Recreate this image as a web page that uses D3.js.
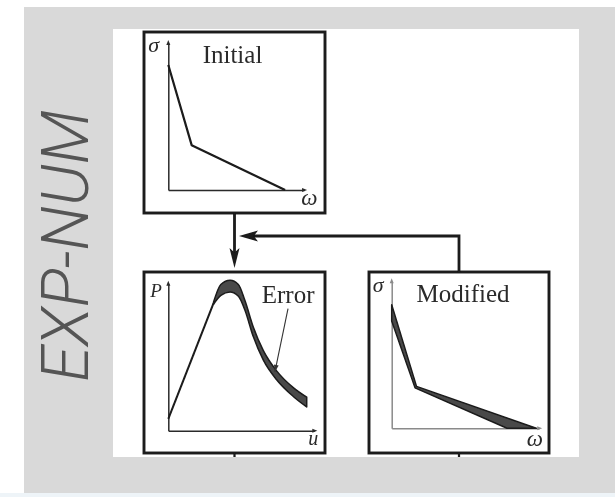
<!DOCTYPE html>
<html>
<head>
<meta charset="utf-8">
<script src="https://cdn.jsdelivr.net/npm/d3@7"></script>
<style>
  html, body { margin: 0; padding: 0; background: #ffffff; }
  svg { display: block; }
</style>
</head>
<body>
<svg id="chart" width="615" height="497"></svg>
<script>
// ---- data -------------------------------------------------------------
// Initial stress-opening law sigma(omega): piecewise linear
const initOmega = [0, 1.6, 8.0];
const initSigma = [8.5, 3.05, 0];

// Load-displacement response P(u) with its error band
// (straight loading branch up to u = 3.1, then the smooth peak and softening tail)
const pU     = [0,   3.1,  3.6,  4.23,  4.8,  5.25, 5.82, 6.51, 7.42, 8.56, 9.48];
const pUpper = [0.8, 8.75, 9.95, 10.23, 9.95, 8.85, 7.05, 5.45, 4.07, 2.93, 2.28];
const pLower = [0.8, 8.6,  9.2,  9.43,  9.15, 8.2,  6.4,  4.8,  3.47, 2.33, 1.62];

// Modified law: band between an upper and a lower bilinear curve
const modOmegaUpper = [0, 1.7, 9.9];
const modSigmaUpper = [8.4, 2.85, 0];
const modOmegaLower = [0, 1.6, 7.9];
const modSigmaLower = [7.3, 2.75, 0];

// "Error" annotation: label anchor and arrow tip, in (u, P)
const errLabel = [6.4, 8.7];
const errFrom  = [8.2, 8.3];
const errTip   = [7.3, 4.0];

const panelTitles = ["Initial", "Modified"];
const axisNames = { initial: ["ω", "σ"], response: ["u", "P"], modified: ["ω", "σ"] };
const sideLabel = "EXP-NUM";

// ---- layout -----------------------------------------------------------
const svg = d3.select("#chart");
const W = 615, H = 497;

// grey backdrop
svg.append("rect").attr("x", 24).attr("y", 7).attr("width", W - 24).attr("height", 486)
  .attr("fill", "#d9d9d9");
svg.append("rect").attr("x", 0).attr("y", 493).attr("width", W).attr("height", 4)
  .attr("fill", "#eef4f8");

// rotated side label
svg.append("text")
  .attr("transform", "translate(88,246) rotate(-90)")
  .attr("text-anchor", "middle")
  .attr("font-family", "Roboto, 'Open Sans', sans-serif")
  .attr("font-weight", 300)
  .attr("font-style", "italic")
  .attr("font-size", 66)
  .attr("fill", "#555555")
  .attr("textLength", 272)
  .attr("lengthAdjust", "spacingAndGlyphs")
  .text(sideLabel);

const defs = svg.append("defs");
defs.append("filter").attr("id", "soft")
  .attr("x", "-5%").attr("y", "-5%").attr("width", "110%").attr("height", "110%")
  .append("feGaussianBlur").attr("stdDeviation", 0.5);

// white figure sheet
svg.append("rect").attr("x", 113).attr("y", 29).attr("width", 466).attr("height", 428)
  .attr("fill", "#ffffff");

const fig = svg.append("g").attr("filter", "url(#soft)");
const ink = "#1a1a1a";
const serif = "'Liberation Serif', 'DejaVu Serif', serif";

// boxes of the flow chart
const boxes = {
  initial:  { x: 144, y: 32,  w: 181, h: 181, ox: 24.3, oy: 158,   xMax: 9.3,  axisColor: "#2a2a2a" },
  response: { x: 144, y: 272, w: 181, h: 181, ox: 24.3, oy: 158.7, xMax: 10.0, axisColor: "#2a2a2a" },
  modified: { x: 369, y: 272, w: 180, h: 181, ox: 22.7, oy: 156.3, xMax: 10.1, axisColor: "#8a8a8a" }
};

// label offsets (from panel origin)
const labelPos = {
  initial:  { yl: [-20, -138, 22], xl: [133, 15, 23] },
  response: { yl: [-18, -134, 19], xl: [140, 14, 20] },
  modified: { yl: [-19, -136, 22], xl: [135, 18, 23] }
};

function makeScales(b) {
  const x0 = b.x + b.ox, y0 = b.y + b.oy;
  return {
    x: d3.scaleLinear().domain([0, 10]).range([x0, x0 + 146]),
    y: d3.scaleLinear().domain([0, 10]).range([y0, y0 - 147])
  };
}

const scales = {};
Object.entries(boxes).forEach(([key, b]) => {
  fig.append("rect").attr("x", b.x).attr("y", b.y).attr("width", b.w).attr("height", b.h)
    .attr("fill", "none").attr("stroke", ink).attr("stroke-width", 2.9);

  const s = makeScales(b);
  scales[key] = s;

  // axes: bare domain lines with small arrowheads
  const xAxis = d3.axisBottom(d3.scaleLinear().domain([0, b.xMax]).range([s.x(0), s.x(b.xMax)]))
    .tickValues([]).tickSizeOuter(0);
  const yAxis = d3.axisLeft(d3.scaleLinear().domain([0, 10]).range([s.y(0), s.y(10)]))
    .tickValues([]).tickSizeOuter(0);
  const gx = fig.append("g").attr("transform", `translate(0,${s.y(0)})`).call(xAxis);
  const gy = fig.append("g").attr("transform", `translate(${s.x(0)},0)`).call(yAxis);
  [gx, gy].forEach(g => g.select(".domain").attr("stroke", b.axisColor).attr("stroke-width", 1.5));

  const xe = s.x(b.xMax), ye = s.y(10), ox = s.x(0), oy = s.y(0);
  fig.append("path").attr("d", `M${xe + 3},${oy} L${xe - 2},${oy - 2} L${xe - 2},${oy + 2} Z`)
    .attr("fill", b.axisColor);
  fig.append("path").attr("d", `M${ox},${ye - 3} L${ox - 2},${ye + 2} L${ox + 2},${ye + 2} Z`)
    .attr("fill", b.axisColor);

  const lp = labelPos[key];
  fig.append("text").attr("x", ox + lp.yl[0]).attr("y", oy + lp.yl[1])
    .attr("font-family", serif).attr("font-style", "italic").attr("font-size", lp.yl[2])
    .attr("fill", "#2a2a2a").text(axisNames[key][1]);
  fig.append("text").attr("x", ox + lp.xl[0]).attr("y", oy + lp.xl[1])
    .attr("font-family", serif).attr("font-style", "italic").attr("font-size", lp.xl[2])
    .attr("fill", "#2a2a2a").text(axisNames[key][0]);
});

// panel titles
const titleStyle = t => t.attr("font-family", serif).attr("font-size", 25).attr("fill", "#2a2a2a")
  .attr("text-anchor", "middle");
fig.append("text").attr("x", boxes.initial.x + 88.5).attr("y", boxes.initial.y + 31)
  .call(titleStyle).text(panelTitles[0]);
fig.append("text").attr("x", boxes.modified.x + 94).attr("y", boxes.modified.y + 30)
  .call(titleStyle).text(panelTitles[1]);

// initial law
{
  const s = scales.initial;
  const line = d3.line().x(d => s.x(d[0])).y(d => s.y(d[1]));
  fig.append("path").datum(d3.zip(initOmega, initSigma)).attr("d", line)
    .attr("fill", "none").attr("stroke", ink).attr("stroke-width", 2.2)
    .attr("stroke-linejoin", "round");
}

// response with error band
{
  const s = scales.response;
  const rows = pU.map((u, i) => ({ u, hi: pUpper[i], lo: pLower[i] }));
  // loading branch is straight; the rest is a smooth curve
  const loading = rows.slice(0, 2);
  const rest = rows.slice(1);
  const straight = d3.line().x(d => s.x(d.u)).y(d => s.y((d.hi + d.lo) / 2));
  fig.append("path").datum(loading).attr("d", straight)
    .attr("fill", "none").attr("stroke", ink).attr("stroke-width", 2);
  const area = d3.area().x(d => s.x(d.u)).y0(d => s.y(d.lo)).y1(d => s.y(d.hi))
    .curve(d3.curveMonotoneX);
  fig.append("path").datum(rest).attr("d", area)
    .attr("fill", "#4a4a4a").attr("stroke", ink).attr("stroke-width", 1.5)
    .attr("stroke-linejoin", "round");

  // annotation
  fig.append("text").attr("x", s.x(errLabel[0])).attr("y", s.y(errLabel[1]))
    .attr("font-family", serif).attr("font-size", 25).attr("fill", "#2a2a2a").text("Error");
  const x1 = s.x(errFrom[0]), y1 = s.y(errFrom[1]), x2 = s.x(errTip[0]), y2 = s.y(errTip[1]);
  fig.append("line").attr("x1", x1).attr("y1", y1).attr("x2", x2).attr("y2", y2)
    .attr("stroke", "#333").attr("stroke-width", 1.1);
  const ang = Math.atan2(y2 - y1, x2 - x1), L = 7, hw = 2.4;
  const bx = x2 - L * Math.cos(ang), by = y2 - L * Math.sin(ang);
  const nx = -Math.sin(ang) * hw, ny = Math.cos(ang) * hw;
  fig.append("path").attr("d", `M${x2},${y2} L${bx + nx},${by + ny} L${bx - nx},${by - ny} Z`)
    .attr("fill", "#333");
}

// modified law band
{
  const s = scales.modified;
  const upper = d3.zip(modOmegaUpper, modSigmaUpper);
  const lower = d3.zip(modOmegaLower, modSigmaLower).reverse();
  const poly = upper.concat(lower);
  const line = d3.line().x(d => s.x(d[0])).y(d => s.y(d[1]));
  fig.append("path").attr("d", line(poly) + "Z")
    .attr("fill", "#4a4a4a").attr("stroke", ink).attr("stroke-width", 1.5)
    .attr("stroke-linejoin", "round");
}

// flow arrows between the boxes
function arrowHead(tx, ty, dir, len, hw) {
  // dir: unit vector pointing toward the tip
  const [dx, dy] = dir;
  const bx = tx - dx * len, by = ty - dy * len;
  const nx = -dy * hw, ny = dx * hw;
  const mx = tx - dx * len * 0.78, my = ty - dy * len * 0.78;
  return `M${tx},${ty} L${bx + nx},${by + ny} L${mx},${my} L${bx - nx},${by - ny} Z`;
}
const cxInit = boxes.initial.x + boxes.initial.w / 2;
const cxMod = boxes.modified.x + boxes.modified.w / 2;
const joinY = 236;
const tipY = boxes.response.y - 4;
fig.append("line").attr("x1", cxInit).attr("y1", boxes.initial.y + boxes.initial.h)
  .attr("x2", cxInit).attr("y2", tipY - 8).attr("stroke", ink).attr("stroke-width", 2.8);
fig.append("path").attr("d", arrowHead(cxInit, tipY, [0, 1], 20, 5)).attr("fill", ink);

fig.append("path")
  .attr("d", `M${cxMod},${boxes.modified.y} L${cxMod},${joinY} L${cxInit + 14},${joinY}`)
  .attr("fill", "none").attr("stroke", ink).attr("stroke-width", 2.8);
fig.append("path").attr("d", arrowHead(cxInit + 4.5, joinY, [-1, 0], 19, 5.5)).attr("fill", ink);

// connectors leaving the lower boxes
[cxInit, cxMod].forEach(cx => {
  fig.append("line").attr("x1", cx).attr("y1", boxes.response.y + boxes.response.h)
    .attr("x2", cx).attr("y2", 457).attr("stroke", ink).attr("stroke-width", 2.2);
});
</script>
</body>
</html>
